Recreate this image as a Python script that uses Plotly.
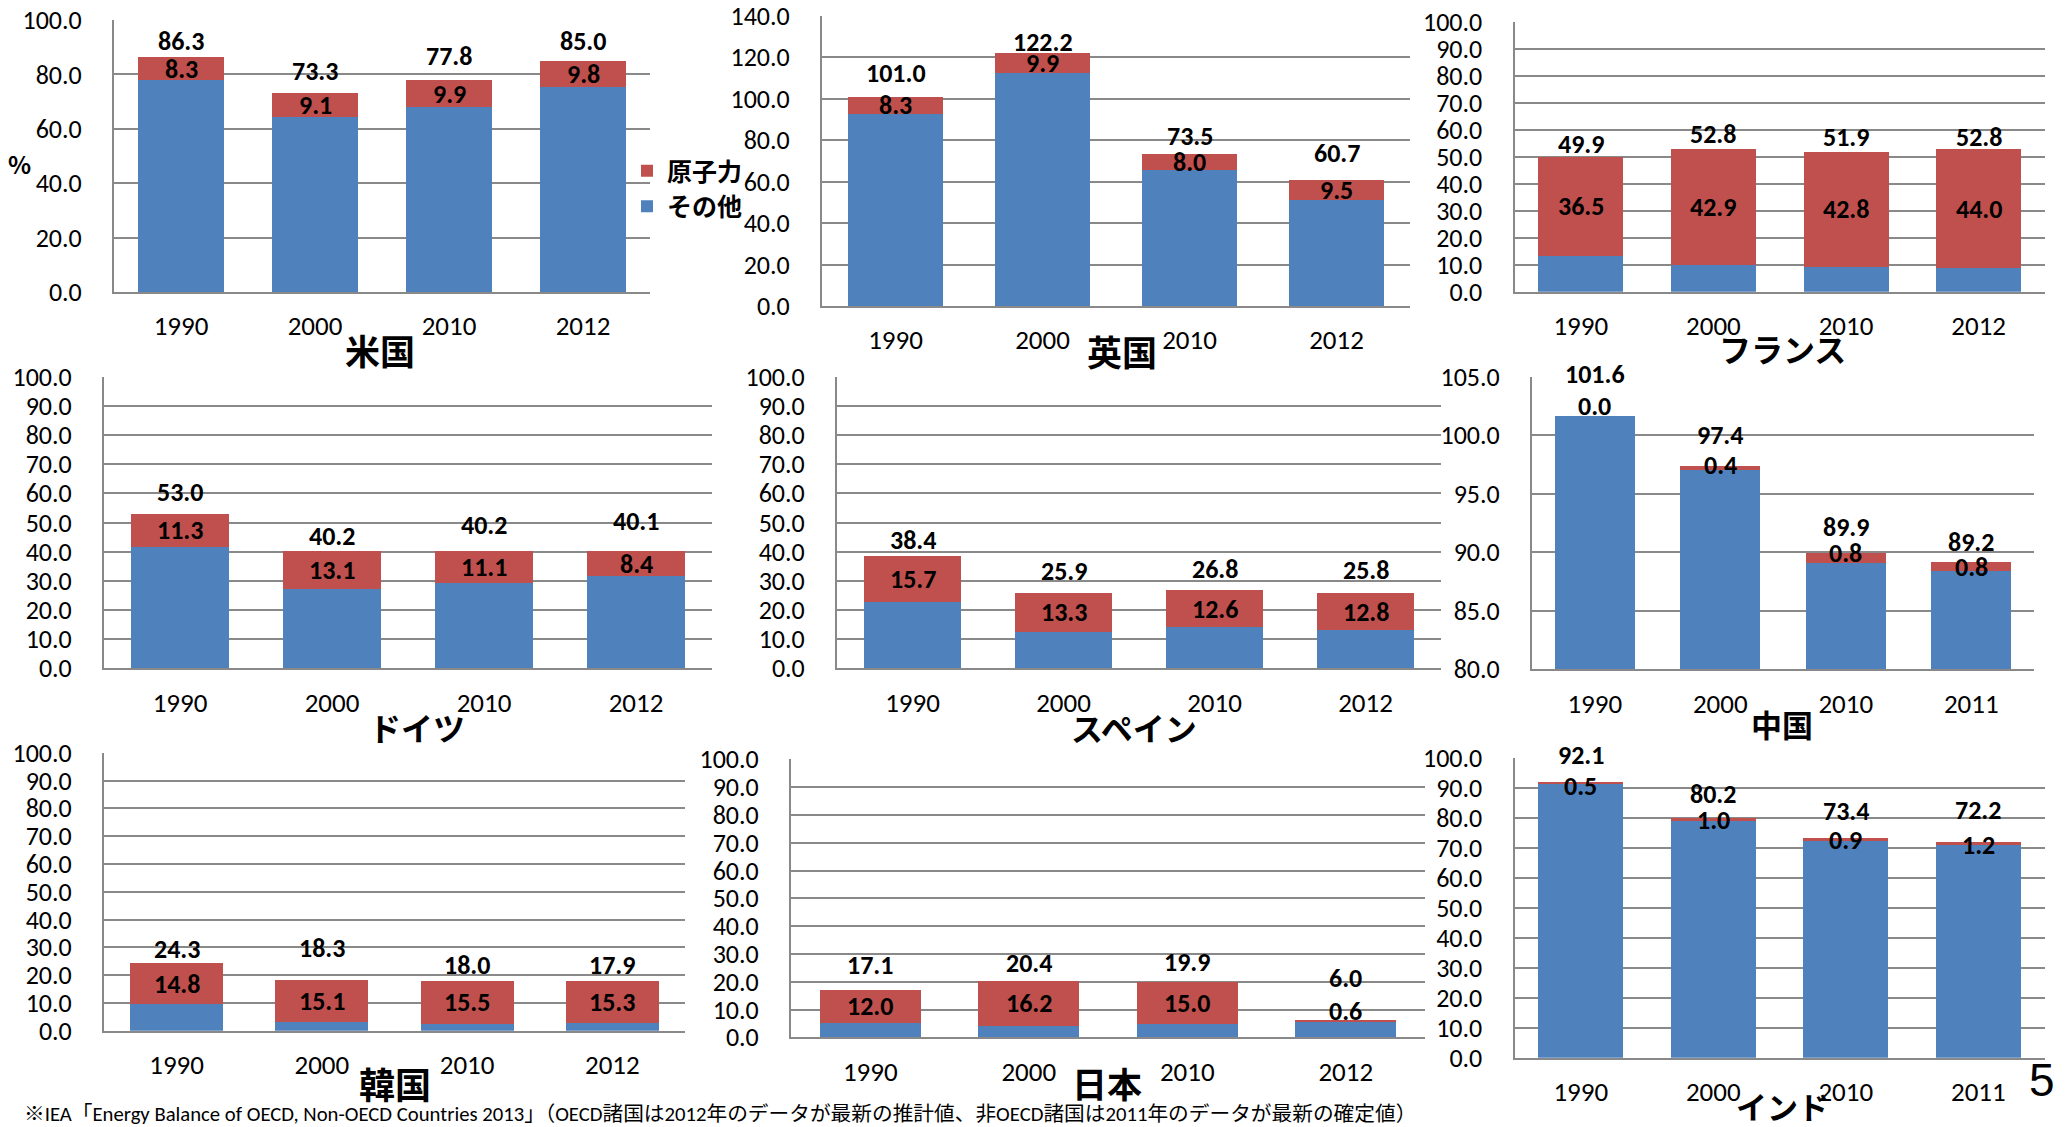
import plotly.graph_objects as go

W, H = 2065, 1127

# ---------------- data ----------------
years_oecd = ["1990", "2000", "2010", "2012"]
years_non = ["1990", "2000", "2010", "2011"]

us_other = [78.0, 64.2, 67.9, 75.2]
us_nuclear = [8.3, 9.1, 9.9, 9.8]
us_total = [86.3, 73.3, 77.8, 85.0]

uk_other = [92.7, 112.3, 65.5, 51.2]
uk_nuclear = [8.3, 9.9, 8.0, 9.5]
uk_total = [101.0, 122.2, 73.5, 60.7]

fr_other = [13.4, 9.9, 9.1, 8.8]
fr_nuclear = [36.5, 42.9, 42.8, 44.0]
fr_total = [49.9, 52.8, 51.9, 52.8]

de_other = [41.7, 27.1, 29.1, 31.7]
de_nuclear = [11.3, 13.1, 11.1, 8.4]
de_total = [53.0, 40.2, 40.2, 40.1]

es_other = [22.7, 12.6, 14.2, 13.0]
es_nuclear = [15.7, 13.3, 12.6, 12.8]
es_total = [38.4, 25.9, 26.8, 25.8]

cn_other = [101.6, 97.0, 89.1, 88.4]
cn_nuclear = [0.0, 0.4, 0.8, 0.8]
cn_total = [101.6, 97.4, 89.9, 89.2]

kr_other = [9.5, 3.2, 2.5, 2.6]
kr_nuclear = [14.8, 15.1, 15.5, 15.3]
kr_total = [24.3, 18.3, 18.0, 17.9]

jp_other = [5.1, 4.2, 4.9, 5.4]
jp_nuclear = [12.0, 16.2, 15.0, 0.6]
jp_total = [17.1, 20.4, 19.9, 6.0]

in_other = [91.6, 79.2, 72.5, 71.0]
in_nuclear = [0.5, 1.0, 0.9, 1.2]
in_total = [92.1, 80.2, 73.4, 72.2]

series_names = ["原子力", "その他"]
y_unit = "%"
footnote = ("※IEA「Energy Balance of OECD, Non-OECD Countries 2013」"
            "（OECD諸国は2012年のデータが最新の推計値、非OECD諸国は2011年のデータが最新の確定値）")
page_no = "5"

# ---------------- layout / style ----------------
BLUE = "#4F81BD"
RED = "#C0504D"
GRID = "#898989"
NUM_FONT = "Carlito, Calibri, 'Liberation Sans Narrow', 'Liberation Sans', sans-serif"
JP_FONT = "'Noto Sans CJK JP', sans-serif"

panels = [
    dict(name="米国", cats=years_oecd, other=us_other, nuc=us_nuclear, tot=us_total,
         box=(114, 650, 20, 292), yr=(0, 100), dt=20, title=(380, 350), tsize=35,
         tdy=[16, 22, 24, 20], ndy=[0, 0, 0, 0]),
    dict(name="英国", cats=years_oecd, other=uk_other, nuc=uk_nuclear, tot=uk_total,
         box=(822, 1410, 15.7, 306), yr=(0, 140), dt=20, title=(1122, 351), tsize=35,
         tdy=[24, 11, 18, 27], ndy=[0, 0, 0, 0]),
    dict(name="フランス", cats=years_oecd, other=fr_other, nuc=fr_nuclear, tot=fr_total,
         box=(1514.5, 2045, 21.7, 291.7), yr=(0, 100), dt=10, title=(1782, 348), tsize=32,
         tdy=[13, 15, 15, 12], ndy=[0, 0, 0, 0]),
    dict(name="ドイツ", cats=years_oecd, other=de_other, nuc=de_nuclear, tot=de_total,
         box=(104, 712, 376.7, 668.3), yr=(0, 100), dt=10, title=(417, 727), tsize=32,
         tdy=[22, 15, 26, 30], ndy=[0, 0, 0, 0]),
    dict(name="スペイン", cats=years_oecd, other=es_other, nuc=es_nuclear, tot=es_total,
         box=(837, 1441, 376.7, 668.3), yr=(0, 100), dt=10, title=(1134, 727), tsize=32,
         tdy=[16, 22, 21, 23], ndy=[0, 0, 0, 0]),
    dict(name="中国", cats=years_non, other=cn_other, nuc=cn_nuclear, tot=cn_total,
         box=(1532, 2034, 376.7, 669.3), yr=(80, 105), dt=5, title=(1782, 723), tsize=31,
         tdy=[42, 31, 26, 20], ndy=[10, 3, 5, -1]),
    dict(name="韓国", cats=years_oecd, other=kr_other, nuc=kr_nuclear, tot=kr_total,
         box=(104, 685, 752.7, 1030.7), yr=(0, 100), dt=10, title=(395, 1083), tsize=36,
         tdy=[14, 32, 16, 16], ndy=[0, 0, 0, 0]),
    dict(name="日本", cats=years_oecd, other=jp_other, nuc=jp_nuclear, tot=jp_total,
         box=(791, 1425, 759.3, 1037.3), yr=(0, 100), dt=10, title=(1107, 1082), tsize=35,
         tdy=[25, 18, 20, 43], ndy=[0, 0, 0, 10]),
    dict(name="インド", cats=years_non, other=in_other, nuc=in_nuclear, tot=in_total,
         box=(1514.5, 2044.6, 758.3, 1057.7), yr=(0, 100), dt=10, title=(1782, 1105),
         tsize=31, tdy=[27, 24, 27, 32], ndy=[-3, -1, -1, -2]),
]

fig = go.Figure()
annotations = []
layout_axes = {}

for i, p in enumerate(panels):
    n = "" if i == 0 else str(i + 1)
    xa, ya = "x" + n, "y" + n
    first = (i == 0)
    fig.add_trace(go.Bar(x=p["cats"], y=p["other"], name=series_names[1], marker_color=BLUE,
                         marker_line_width=0, xaxis=xa, yaxis=ya, showlegend=first,
                         legendgroup="other"))
    fig.add_trace(go.Bar(x=p["cats"], y=p["nuc"], name=series_names[0], marker_color=RED,
                         marker_line_width=0, xaxis=xa, yaxis=ya, showlegend=first,
                         legendgroup="nuc"))
    l, r, t, b = p["box"]
    layout_axes["xaxis" + n] = dict(
        domain=[l / W, r / W], anchor=ya, type="category",
        categoryorder="array", categoryarray=p["cats"],
        range=[-0.5, len(p["cats"]) - 0.5], autorange=False, automargin=False,
        showline=True, linecolor=GRID, linewidth=2, showgrid=False,
        ticks="", tickfont=dict(family=NUM_FONT, size=27, color="black"),
        ticklabelstandoff=9, ticklabeloverflow="allow", fixedrange=True,
    )
    layout_axes["yaxis" + n] = dict(
        domain=[1 - b / H, 1 - t / H], anchor=xa, range=list(p["yr"]), autorange=False,
        automargin=False, dtick=p["dt"], tick0=p["yr"][0], tickformat=".1f",
        showline=True, linecolor=GRID, linewidth=2, showgrid=True, gridcolor=GRID,
        gridwidth=2, zeroline=False, ticks="",
        tickfont=dict(family=NUM_FONT, size=26, color="black"),
        ticklabelstandoff=25, ticklabeloverflow="allow", fixedrange=True,
    )
    for j, c in enumerate(p["cats"]):
        annotations.append(dict(
            x=j, y=p["tot"][j], xref=xa, yref=ya, text=f"{p['tot'][j]:.1f}",
            showarrow=False, yshift=p["tdy"][j], yanchor="middle",
            font=dict(family=NUM_FONT, size=26, color="black", weight="bold")))
        annotations.append(dict(
            x=j, y=p["other"][j] + p["nuc"][j] / 2, xref=xa, yref=ya,
            text=f"{p['nuc'][j]:.1f}", showarrow=False, yshift=p["ndy"][j],
            yanchor="middle",
            font=dict(family=NUM_FONT, size=26, color="black", weight="bold")))
    tx, ty = p["title"]
    annotations.append(dict(
        x=tx / W, y=1 - ty / H, xref="paper", yref="paper", text=p["name"],
        showarrow=False, xanchor="center", yanchor="middle",
        font=dict(family=JP_FONT, size=p["tsize"], color="black", weight="bold")))

annotations.append(dict(x=19 / W, y=1 - 163 / H, xref="paper", yref="paper", text=y_unit,
                        showarrow=False, xanchor="center", yanchor="middle",
                        font=dict(family=JP_FONT, size=24, color="black", weight="bold")))
annotations.append(dict(x=22 / W, y=1 - 1114 / H, xref="paper", yref="paper", text=footnote,
                        showarrow=False, xanchor="left", yanchor="middle",
                        font=dict(family=NUM_FONT + ", 'Noto Sans CJK JP'", size=20.7,
                                  color="black")))
annotations.append(dict(x=2042 / W, y=1 - 1080 / H, xref="paper", yref="paper", text=page_no,
                        showarrow=False, xanchor="center", yanchor="middle",
                        font=dict(family="'Liberation Sans', Arial, sans-serif", size=46,
                                  color="black")))

fig.update_layout(
    width=W, height=H,
    margin=dict(l=0, r=0, t=0, b=0, autoexpand=False),
    paper_bgcolor="white", plot_bgcolor="white",
    barmode="stack", bargap=0.36,
    showlegend=True,
    legend=dict(x=627 / W, y=1 - 148 / H, xanchor="left", yanchor="top",
                bgcolor="rgba(0,0,0,0)", traceorder="reversed",
                font=dict(family=JP_FONT, size=25, color="black", weight="bold"),
                itemclick=False, itemdoubleclick=False),
    annotations=annotations,
    **layout_axes,
)

fig.write_html("out.html")
